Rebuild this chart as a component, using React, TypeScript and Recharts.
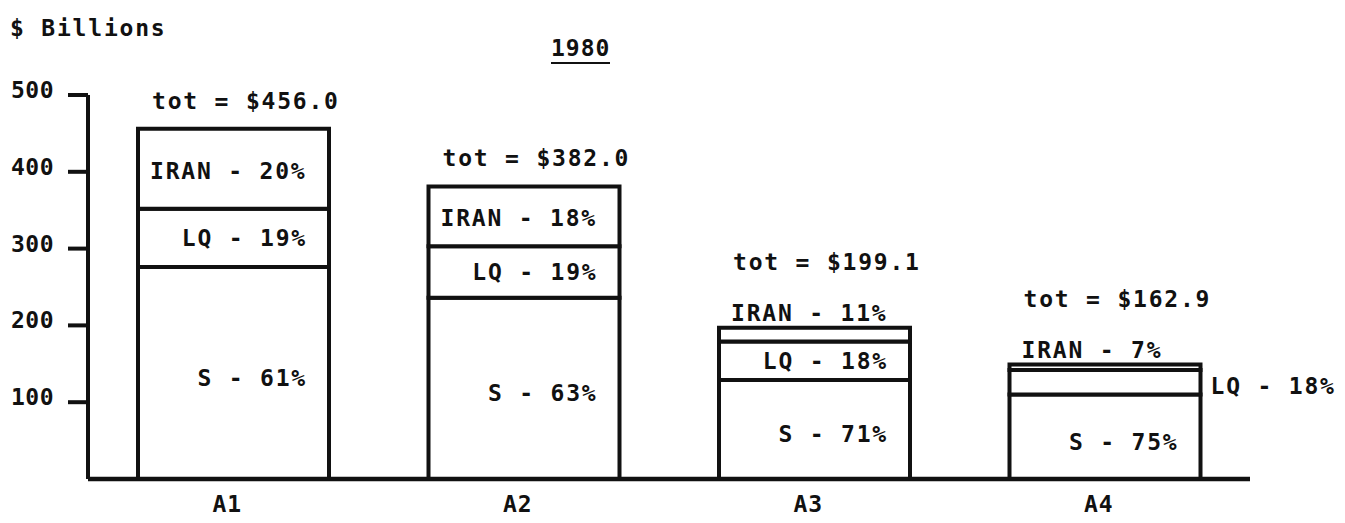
import { BarChart, Bar, XAxis, YAxis, LabelList } from 'recharts';

const categories = ['A1', 'A2', 'A3', 'A4'];
const sValues = [276, 236, 129, 110];
const lqValues = [76, 67, 50, 32];
const iranValues = [104, 78, 18, 7];
const totalLabels = ['tot = $456.0', 'tot = $382.0', 'tot = $199.1', 'tot = $162.9'];
const sLabels = ['S - 61%', 'S - 63%', 'S - 71%', 'S - 75%'];
const lqLabels = ['LQ - 19%', 'LQ - 19%', 'LQ - 18%', 'LQ - 18%'];
const iranLabels = ['IRAN - 20%', 'IRAN - 18%', 'IRAN - 11%', 'IRAN - 7%'];
const yTicks = [100, 200, 300, 400, 500];

const data = categories.map((name, i) => ({
  name,
  s: sValues[i],
  lq: lqValues[i],
  iran: iranValues[i]
}));

const ink = '#111';
const mono = '"DejaVu Sans Mono", monospace';
const textStyle = { fontFamily: mono, fontSize: 23, fontWeight: 600, letterSpacing: 1.8, fill: ink };

function box(props: any) {
  const vb = props.viewBox || {};
  return {
    x: Number(props.x ?? vb.x),
    y: Number(props.y ?? vb.y),
    w: Number(props.width ?? vb.width),
    h: Number(props.height ?? vb.height),
    i: props.index as number
  };
}

function SLabel(props: any) {
  const { x, y, w, h, i } = box(props);
  return (
    <text x={x + w - 22} y={y + h / 2 + 5} textAnchor='end' dominantBaseline='central' style={textStyle}>
      {sLabels[i]}
    </text>
  );
}

function LqLabel(props: any) {
  const { x, y, w, h, i } = box(props);
  const outside = h < 30;
  return (
    <text
      x={outside ? x + w + 10 : x + w - 22}
      y={y + h / 2 + (outside ? 4 : 0)}
      textAnchor={outside ? 'start' : 'end'}
      dominantBaseline='central'
      style={textStyle}
    >
      {lqLabels[i]}
    </text>
  );
}

function IranLabel(props: any) {
  const { x, y, w, h, i } = box(props);
  const above = h < 30;
  return (
    <g>
      <text x={x + 12} y={above ? y - 15 : y + h / 2 + 2} dominantBaseline='central' style={textStyle}>
        {iranLabels[i]}
      </text>
      <text x={x + 14} y={y - (above ? 66 : 28)} dominantBaseline='central' style={textStyle}>
        {totalLabels[i]}
      </text>
    </g>
  );
}

function YTick({ x, y, payload }: any) {
  return (
    <text x={x} y={y - 5} textAnchor='end' dominantBaseline='central' style={{ ...textStyle, letterSpacing: 0.5 }}>
      {payload.value}
    </text>
  );
}

function XTick({ x, y, payload }: any) {
  return (
    <text x={x - 6} y={y + 23} textAnchor='middle' dominantBaseline='central' style={{ ...textStyle, letterSpacing: 1 }}>
      {payload.value}
    </text>
  );
}

export default function App() {
  return (
    <div style={{ position: 'absolute', left: 0, top: 0, width: 1345, height: 523, background: '#fff' }}>
      <div
        style={{
          position: 'absolute',
          left: 10,
          top: 16,
          fontFamily: mono,
          fontSize: 23,
          fontWeight: 600,
          lineHeight: '24px',
          letterSpacing: 1.8,
          color: ink
        }}
      >
        $ Billions
      </div>
      <div
        style={{
          position: 'absolute',
          left: 551,
          top: 36,
          fontFamily: mono,
          fontSize: 23,
          fontWeight: 600,
          lineHeight: '24px',
          letterSpacing: 1,
          color: ink,
          borderBottom: `2px solid ${ink}`,
          paddingBottom: 2
        }}
      >
        1980
      </div>
      <BarChart width={1345} height={523} data={data} margin={{ top: 95, right: 95, bottom: 0, left: 0 }} barSize={191}>
        <XAxis
          dataKey='name'
          height={44}
          axisLine={{ stroke: ink, strokeWidth: 4.5 }}
          tickLine={false}
          tickSize={0}
          tick={<XTick />}
        />
        <YAxis
          width={88}
          domain={[0, 500]}
          ticks={yTicks}
          axisLine={{ stroke: ink, strokeWidth: 4 }}
          tickLine={{ stroke: ink, strokeWidth: 4 }}
          tickSize={20}
          tickMargin={14}
          tick={<YTick />}
        />
        <Bar dataKey='s' stackId='a' fill='#fff' stroke={ink} strokeWidth={4} isAnimationActive={false}>
          <LabelList dataKey='s' content={<SLabel />} />
        </Bar>
        <Bar dataKey='lq' stackId='a' fill='#fff' stroke={ink} strokeWidth={4} isAnimationActive={false}>
          <LabelList dataKey='lq' content={<LqLabel />} />
        </Bar>
        <Bar dataKey='iran' stackId='a' fill='#fff' stroke={ink} strokeWidth={4} isAnimationActive={false}>
          <LabelList dataKey='iran' content={<IranLabel />} />
        </Bar>
      </BarChart>
    </div>
  );
}
